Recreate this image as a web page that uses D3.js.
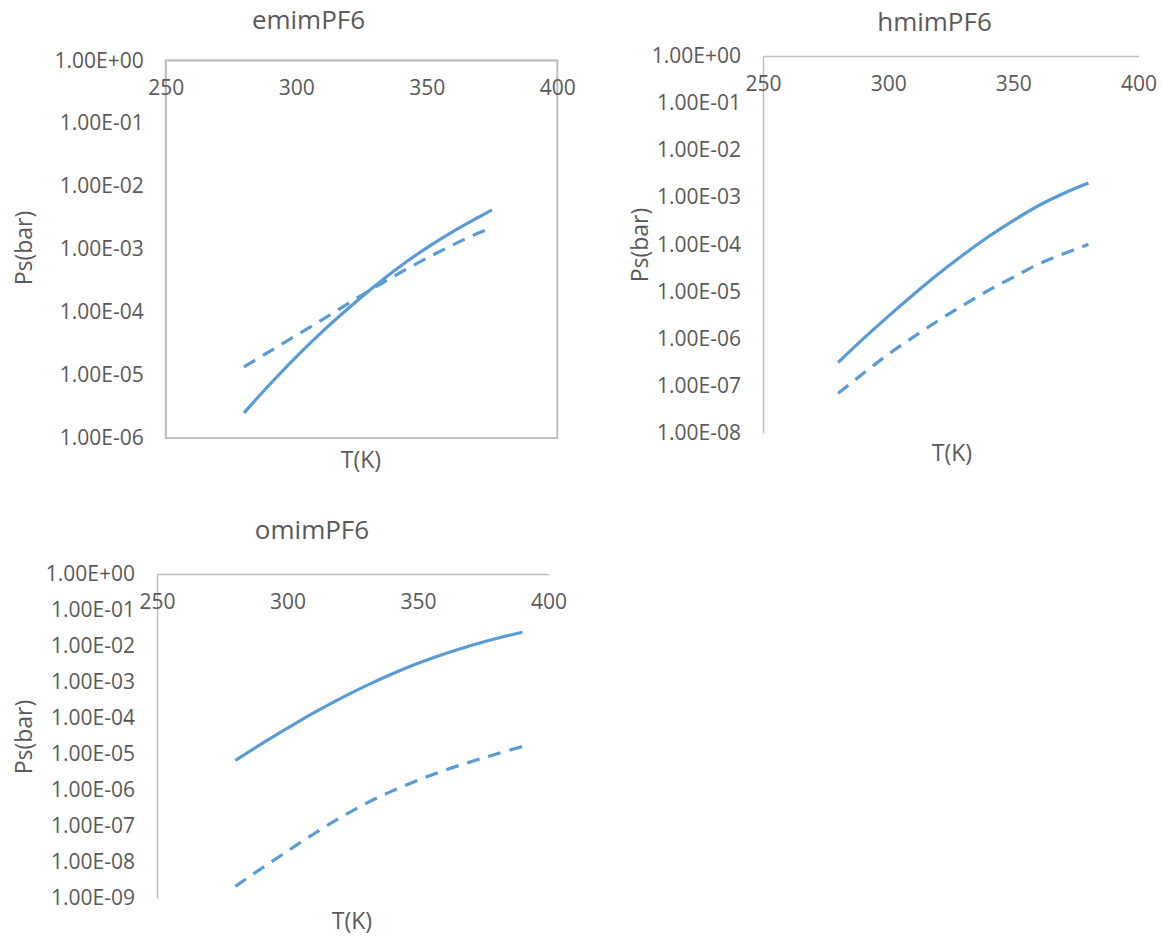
<!DOCTYPE html>
<html>
<head>
<meta charset="utf-8">
<script src="https://cdn.jsdelivr.net/npm/d3@7"></script>
<style>
  body { margin: 0; background: #fff; }
  text { font-family: "Open Sans", sans-serif; fill: #595959; }
  .tick text { font-size: 21px; fill: #595959; }
  .domain { stroke: #bfbfbf; stroke-width: 1.5; }
</style>
</head>
<body>
<div id="chart"></div>
<script>
// vapour pressure curves, Ps(bar) vs T(K)
var titles = ["emimPF6", "hmimPF6", "omimPF6"]
var xTicks = [250, 300, 350, 400]

var tEmim = [280, 290, 300, 310, 320, 330, 340, 350, 360, 370, 375]
var emimSolid = [2.51e-6, 7.2e-6, 1.95e-5, 4.9e-5, 1.15e-4, 2.57e-4, 5.4e-4, 1.05e-3, 1.9e-3, 3.24e-3, 4.2e-3]
var emimDash = [1.35e-5, 2.4e-5, 4.27e-5, 7.6e-5, 1.38e-4, 2.45e-4, 4.27e-4, 7.2e-4, 1.17e-3, 1.82e-3, 2.19e-3]

var tHmim = [280, 290, 300, 310, 320, 330, 340, 350, 360, 370, 380]
var hmimSolid = [3.1e-7, 9.8e-7, 2.95e-6, 8.5e-6, 2.34e-5, 6.0e-5, 1.45e-4, 3.2e-4, 6.6e-4, 1.2e-3, 2.0e-3]
var hmimDash = [6.9e-8, 1.8e-7, 4.6e-7, 1.07e-6, 2.4e-6, 5.1e-6, 1.05e-5, 2.0e-5, 3.8e-5, 6.3e-5, 1.0e-4]

var tOmim = [280, 290, 300, 310, 320, 330, 340, 350, 360, 370, 380, 390]
var omimSolid = [6.6e-6, 1.9e-5, 5.2e-5, 1.38e-4, 3.4e-4, 7.8e-4, 1.66e-3, 3.3e-3, 6.0e-3, 1.02e-2, 1.62e-2, 2.4e-2]
var omimDash = [2.1e-9, 6.6e-9, 2.0e-8, 6.0e-8, 1.66e-7, 4.2e-7, 9.3e-7, 1.86e-6, 3.5e-6, 6.0e-6, 1.0e-5, 1.62e-5]

var yMins = [1e-6, 1e-8, 1e-9]

// panel placement (pixels)
var panels = [
    {left: 165.7, right: 557.3, top: 60.3, bottom: 438, box: true,
     title: [308.5, 20], xt: [361, 460], yt: [24, 248],
     t: tEmim, solid: emimSolid, dash: emimDash},
    {left: 763, right: 1138.5, top: 56, bottom: 432.7, box: false,
     title: [934.5, 22], xt: [952, 453], yt: [640, 245],
     t: tHmim, solid: hmimSolid, dash: hmimDash},
    {left: 157, right: 548.5, top: 574, bottom: 898, box: false,
     title: [312, 530], xt: [352, 921], yt: [24, 737],
     t: tOmim, solid: omimSolid, dash: omimDash}
]

var blue = "#5b9bd5"

var svg = d3.select("#chart").append("svg")
    .attr("width", 1162)
    .attr("height", 936)

var fmt = d => {
    var e = Math.round(Math.log10(d))
    return "1.00E" + (e < 0 ? "-" : "+") + String(Math.abs(e)).padStart(2, "0")
}

panels.forEach((p, i) => {
    var xScale = d3.scaleLinear().domain([250, 400]).range([p.left, p.right])
    var yScale = d3.scaleLog().domain([yMins[i], 1]).range([p.bottom, p.top])
    var decades = d3.range(0, Math.round(-Math.log10(yMins[i])) + 1).map(k => Math.pow(10, -k))

    var g = svg.append("g")

    if (p.box) {
        g.append("rect")
            .attr("x", p.left).attr("y", p.top)
            .attr("width", p.right - p.left).attr("height", p.bottom - p.top)
            .attr("fill", "none").attr("stroke", "#bfbfbf").attr("stroke-width", 2)
    }

    // y axis (log), no tick marks like excel
    g.append("g")
        .attr("transform", `translate(${p.left},0)`)
        .call(d3.axisLeft(yScale).tickValues(decades).tickFormat(fmt).tickSize(0).tickPadding(22))

    // x axis sits at the top (crosses at 1.00E+00), labels below it
    g.append("g")
        .attr("transform", `translate(0,${p.top})`)
        .call(d3.axisBottom(xScale).tickValues(xTicks).tickSize(0).tickPadding(20))

    g.selectAll(".domain").attr("stroke", "#bfbfbf")

    var line = d3.line()
        .x(d => xScale(d[0]))
        .y(d => yScale(d[1]))
        .curve(d3.curveCatmullRom)

    g.append("path")
        .attr("d", line(p.t.map((t, j) => [t, p.solid[j]])))
        .attr("fill", "none").attr("stroke", blue).attr("stroke-width", 3.2)

    g.append("path")
        .attr("d", line(p.t.map((t, j) => [t, p.dash[j]])))
        .attr("fill", "none").attr("stroke", blue).attr("stroke-width", 3.2)
        .attr("stroke-dasharray", "13,9")

    g.append("text")
        .attr("x", p.title[0]).attr("y", p.title[1])
        .attr("dy", "0.35em")
        .attr("text-anchor", "middle")
        .style("font-size", "26px")
        .text(titles[i])

    g.append("text")
        .attr("x", p.xt[0]).attr("y", p.xt[1])
        .attr("dy", "0.35em")
        .attr("text-anchor", "middle")
        .style("font-size", "23px")
        .text("T(K)")

    g.append("text")
        .attr("transform", `translate(${p.yt[0]},${p.yt[1]})rotate(-90)`)
        .attr("dy", "0.35em")
        .attr("text-anchor", "middle")
        .style("font-size", "23px")
        .text("Ps(bar)")
})
</script>
</body>
</html>
